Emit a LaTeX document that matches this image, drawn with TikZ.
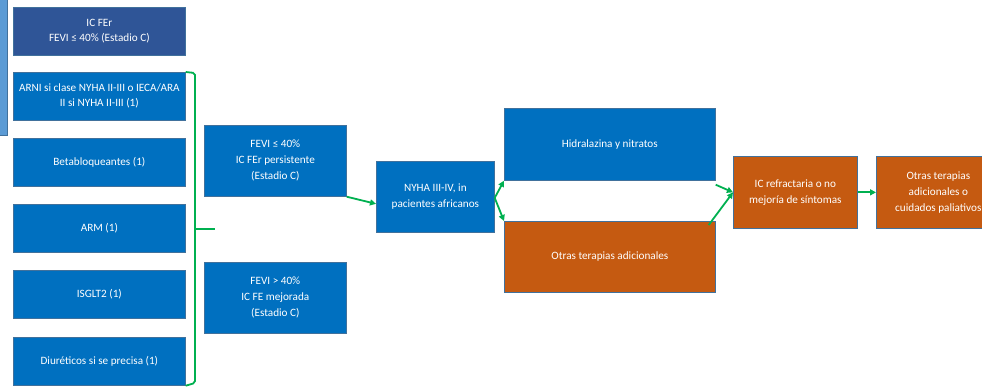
\documentclass[tikz,border=0pt]{standalone}
\usepackage{fontspec}
\setmainfont{Carlito}
\usetikzlibrary{arrows.meta}
\definecolor{boxblue}{HTML}{0070C0}
\definecolor{darkblue}{HTML}{2F5597}
\definecolor{lightblue}{HTML}{5B9BD5}
\definecolor{boxorange}{HTML}{C55A11}
\definecolor{edgeblue}{HTML}{41719C}
\definecolor{flowgreen}{HTML}{00B050}
\tikzset{
  card/.style={draw=edgeblue, line width=0.7pt, text=white, align=center,
    anchor=north west, inner sep=2pt, font=\fontsize{11.2}{16}\selectfont},
  bluecard/.style={card, fill=boxblue},
  orangecard/.style={card, fill=boxorange},
  flow/.style={draw=flowgreen, line width=1.8pt,
    -{Triangle[length=6pt,width=6pt]}},
  brace/.style={draw=flowgreen, line width=1.8pt, rounded corners=2pt},
}
\begin{document}
\begin{tikzpicture}[x=1pt,y=-1pt]
\useasboundingbox (0,0) rectangle (982,386);
\clip (0,0) rectangle (982,386);

% side panel, partly outside the frame
\node[card, fill=lightblue, minimum width=10pt, minimum height=138pt] (side) at (-3,-3) {};

% left column: treatments
\node[card, fill=darkblue, minimum width=172pt, minimum height=48pt,
  font=\fontsize{11.2}{15}\selectfont] (icfer) at (13,7)
  {IC FEr\\FEVI ≤ 40\% (Estadio C)};
\node[bluecard, minimum width=172pt, minimum height=48pt,
  font=\fontsize{11.2}{15}\selectfont] (arni) at (13,72)
  {ARNI si clase NYHA II-III o IECA/ARA\\II si NYHA II-III (1)};
\node[bluecard, minimum width=172pt, minimum height=48pt] (beta) at (13,138)
  {Betabloqueantes (1)};
\node[bluecard, minimum width=172pt, minimum height=48pt] (arm) at (13,204)
  {ARM (1)};
\node[bluecard, minimum width=172pt, minimum height=48pt] (isglt) at (13,270)
  {ISGLT2 (1)};
\node[bluecard, minimum width=172pt, minimum height=48pt] (diur) at (13,337)
  {Diuréticos si se precisa (1)};

% bracket grouping the treatments
\coordinate (btop) at (195,73);
\coordinate (bbot) at (195,383);
\coordinate (bmid) at (215,229);
\draw[brace] (arni.north east) -- (btop) -- (bbot) -- (diur.south east);
\draw[brace] (btop |- bmid) -- (bmid);

% outcome after treatment
\node[bluecard, minimum width=142pt, minimum height=71pt] (fevi1) at (204,125)
  {FEVI ≤ 40\%\\IC FEr persistente\\(Estadio C)};
\node[bluecard, minimum width=142pt, minimum height=71pt] (fevi2) at (204,262)
  {FEVI > 40\%\\IC FE mejorada\\(Estadio C)};

\node[bluecard, minimum width=118pt, minimum height=71pt] (nyha) at (376,161)
  {NYHA III-IV, in\\pacientes africanos};

\node[bluecard, minimum width=211pt, minimum height=72pt] (hidra) at (504,108)
  {Hidralazina y nitratos};
\node[orangecard, minimum width=211pt, minimum height=71pt] (otras) at (504,221)
  {Otras terapias adicionales};

\node[orangecard, minimum width=124pt, minimum height=72pt] (refr) at (733,156)
  {IC refractaria o no\\mejoría de síntomas};
\node[orangecard, minimum width=124pt, minimum height=72pt] (pal) at (876,156)
  {Otras terapias\\adicionales o\\cuidados paliativos};

% connectors
\draw[flow] (fevi1.south east) -- ([yshift=-7pt]nyha.west);
\draw[flow] ([yshift=-1pt]nyha.east) -- (hidra.south west);
\draw[flow] ([yshift=-1pt]nyha.east) -- (otras.north west);
\draw[flow] ([yshift=-4pt]hidra.south east) -- (refr.west);
\draw[flow] ([xshift=-7pt,yshift=-4pt]otras.north east) -- (refr.west);
\draw[flow] (refr.east) -- (pal.west);
\end{tikzpicture}
\end{document}
